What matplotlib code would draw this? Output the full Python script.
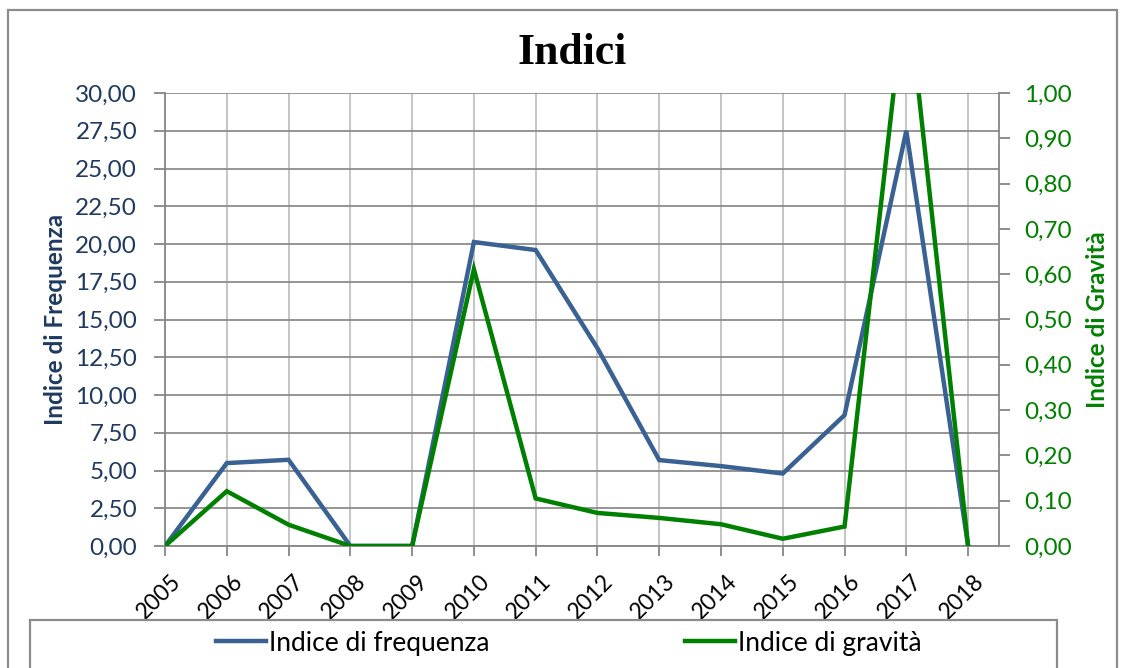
import matplotlib
matplotlib.use("Agg")
import matplotlib.pyplot as plt
import matplotlib.transforms as mtransforms
from matplotlib.patches import Rectangle
from matplotlib.ticker import FuncFormatter, MultipleLocator
import numpy as np

years = ["2005", "2006", "2007", "2008", "2009", "2010", "2011",
         "2012", "2013", "2014", "2015", "2016", "2017", "2018"]
frequenza = [0.0, 5.49, 5.71, 0.0, 0.0, 20.13, 19.6, 13.1, 5.69, 5.29, 4.80, 8.67, 27.5, 0.0]
gravita = [0.0, 0.121, 0.047, 0.0, 0.0, 0.611, 0.105, 0.073, 0.062, 0.048, 0.016, 0.043, 1.25, 0.0]

BLUE = "#3A6193"
GREEN = "#008000"
NAVY = "#1F3A60"
AXGREY = "#868686"

plt.rcParams['font.family'] = ['Lato', 'DejaVu Sans']

W, H = 1131, 668
fig = plt.figure(figsize=(W / 100, H / 100), dpi=100)

left, right, top, bottom = 165, 999, 93, 546
ax = fig.add_axes([left / W, 1 - bottom / H, (right - left) / W, (bottom - top) / H])
ax2 = ax.twinx()

x = np.arange(len(years))
ax.plot(x, frequenza, color=BLUE, lw=3.2, solid_joinstyle='miter', zorder=3, label="Indice di frequenza")
ax2.plot(x, gravita, color=GREEN, lw=3.2, solid_joinstyle='miter', zorder=3, label="Indice di gravità")

ax.set_xlim(0, len(years) - 0.5)
ax.set_ylim(0, 30)
ax2.set_ylim(0, 1)

ax.yaxis.set_major_locator(MultipleLocator(2.5))
ax2.yaxis.set_major_locator(MultipleLocator(0.1))
ax.yaxis.set_major_formatter(FuncFormatter(lambda v, p: f"{v:.2f}".replace(".", ",")))
ax2.yaxis.set_major_formatter(FuncFormatter(lambda v, p: f"{v:.2f}".replace(".", ",")))

ax.set_xticks(x)
ax.set_xticklabels(years, rotation=45, ha='right', va='top', rotation_mode='anchor',
                   fontsize=16.5, color='black')
ax.tick_params(axis='x', length=7, width=1.3, color=AXGREY, pad=11)
ax.tick_params(axis='y', length=8, width=1.3, color=AXGREY, labelsize=17.5, labelcolor=NAVY, pad=12)
ax2.tick_params(axis='y', length=8, width=1.3, color=AXGREY, labelsize=17.5, labelcolor=GREEN, pad=10)

shift = mtransforms.ScaledTranslation(5 / 100, 0, fig.dpi_scale_trans)
for lbl in ax.get_xticklabels():
    lbl.set_transform(lbl.get_transform() + shift)

# grid
ax.grid(axis='y', color="#8C8C8C", lw=1.3)
ax.grid(axis='x', color="#C0C0C0", lw=1.3)
ax.set_axisbelow(True)

for a in (ax, ax2):
    for s in a.spines.values():
        s.set_color(AXGREY)
        s.set_linewidth(1.3)
    a.spines['top'].set_visible(False)
ax2.spines['left'].set_visible(False)
ax2.spines['bottom'].set_visible(False)
ax.spines['right'].set_visible(False)

ax.set_ylabel("Indice di Frequenza", fontsize=17.5, fontweight='bold', color=NAVY, labelpad=6)
ax2.set_ylabel("Indice di Gravità", fontsize=17.5, fontweight='bold', color=GREEN,
               rotation=90, labelpad=10)

fig.text(572 / W, 1 - 53 / H, "Indici", fontsize=31.5, fontweight='bold',
         family='Liberation Serif', ha='center', va='center')

# outer chart frame
fig.patches.append(Rectangle((8 / W, -0.01), (1117 - 8) / W, 1 - 10 / H + 0.01,
                             transform=fig.transFigure, fill=False, ec="#8C8C8C", lw=1.6))
# legend frame
fig.patches.append(Rectangle((30 / W, -0.01), (1057 - 30) / W, 1 - 620 / H + 0.01,
                             transform=fig.transFigure, fill=False, ec="#8C8C8C", lw=1.6))

h1, l1 = ax.get_legend_handles_labels()
h2, l2 = ax2.get_legend_handles_labels()
leg = fig.legend(h1 + h2, l1 + l2, loc='center left', bbox_to_anchor=(205 / W, 1 - 643 / H),
                 ncol=2, frameon=False, fontsize=19, handlelength=1.9, handletextpad=0.12,
                 columnspacing=7.4, borderaxespad=0)

fig.savefig("out.png", dpi=100)
